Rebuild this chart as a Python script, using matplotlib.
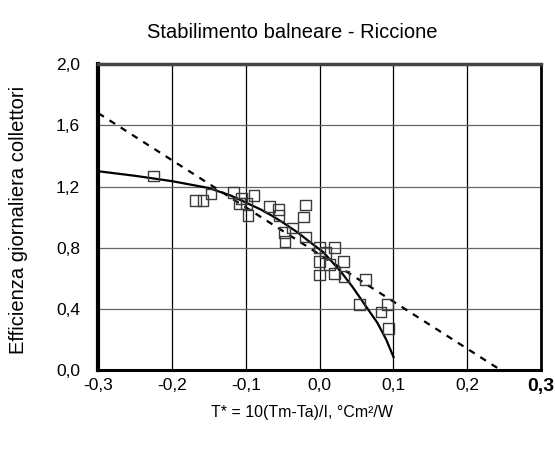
import numpy as np
import matplotlib
matplotlib.use("Agg")
import matplotlib.pyplot as plt

plt.rcParams["font.family"] = ["Liberation Sans", "DejaVu Sans"]

# measured daily efficiency points
t_star = [-0.225, -0.168, -0.158, -0.147, -0.117, -0.106, -0.109, -0.089, -0.099,
          -0.097, -0.068, -0.056, -0.055, -0.019, -0.022, -0.037, -0.048, -0.047,
          -0.019, 0.000, 0.008, 0.020, 0.000, 0.013, 0.032, 0.000, 0.020, 0.033,
          0.062, 0.054, 0.092, 0.083, 0.093]
efficienza = [1.27, 1.11, 1.11, 1.15, 1.16, 1.12, 1.09, 1.14, 1.09,
              1.01, 1.07, 1.05, 1.01, 1.08, 1.00, 0.93, 0.90, 0.84,
              0.87, 0.80, 0.77, 0.80, 0.71, 0.69, 0.71, 0.62, 0.63, 0.61,
              0.59, 0.43, 0.43, 0.38, 0.27]

# curve (solid)
curve_x = [-0.30, -0.25, -0.20, -0.15, -0.12, -0.10, -0.08, -0.065, -0.05, -0.03,
           -0.01, 0.005, 0.02, 0.03, 0.045, 0.055, 0.065, 0.078, 0.09, 0.10]
curve_y = [1.30, 1.27, 1.235, 1.19, 1.14, 1.095, 1.05, 1.01, 0.965, 0.90,
           0.825, 0.77, 0.69, 0.635, 0.54, 0.47, 0.40, 0.31, 0.20, 0.085]

# linear fit (dashed) end points
line_x = [-0.30, 0.245]
line_y = [1.68, 0.0]

xticks = [-0.3, -0.2, -0.1, 0.0, 0.1, 0.2, 0.3]
yticks = [0.0, 0.4, 0.8, 1.2, 1.6, 2.0]

fig = plt.figure(figsize=(5.55, 4.49), dpi=100)
ax = fig.add_axes([0.177, 0.176, 0.798, 0.681])

ax.plot(line_x, line_y, color="black", lw=1.6, ls=(0, (3, 3)), zorder=3)
ax.plot(curve_x, curve_y, color="black", lw=1.6, zorder=3)
ax.scatter(t_star, efficienza, marker="s", s=58, facecolors="none",
           edgecolors="#3a3a3a", linewidths=1.0, zorder=4)

ax.set_xlim(-0.3, 0.3)
ax.set_ylim(0, 2.0)
ax.set_xticks(xticks)
ax.set_yticks(yticks)
ax.set_xticklabels([f"{v:.1f}".replace(".", ",") for v in xticks], fontsize=12.5)
ax.set_yticklabels([f"{v:.1f}".replace(".", ",") for v in yticks], fontsize=12.5)
lab = ax.get_xticklabels()[-1]
lab.set_fontweight("bold")
lab.set_fontsize(14)
ax.tick_params(axis="x", length=0, pad=6)
ax.tick_params(axis="y", length=0, pad=13)

for v in xticks[1:-1]:
    ax.axvline(v, color="black", lw=0.9, zorder=1)
for v in yticks[1:-1]:
    ax.axhline(v, color="#666666", lw=0.9, zorder=1)

ax.spines["left"].set_linewidth(3)
ax.spines["bottom"].set_linewidth(2.2)
ax.spines["right"].set_linewidth(2)
ax.spines["top"].set_linewidth(2.5)
ax.spines["top"].set_color("#444444")

fig.text(302 / 555, 1 - 412 / 449, "T* = 10(Tm-Ta)/I, °Cm²/W", fontsize=11.5,
         ha="center", va="center")
fig.text(19 / 555, 1 - 220 / 449, "Efficienza giornaliera collettori", fontsize=14.5,
         rotation=90, ha="center", va="center")
fig.text(292 / 555, 1 - 32 / 449, "Stabilimento balneare - Riccione", fontsize=14.5,
         ha="center", va="center")

fig.savefig("out.png", dpi=100)
